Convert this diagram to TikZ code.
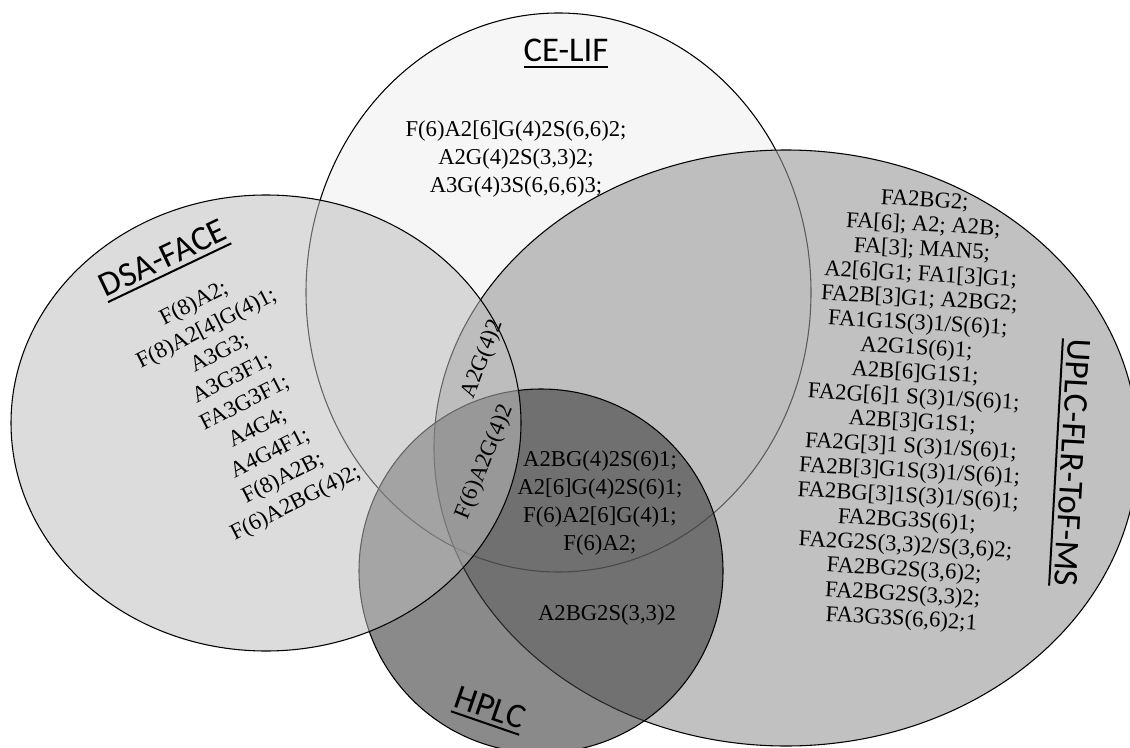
\documentclass[tikz,border=0pt]{standalone}
\usepackage{fontspec}
\setmainfont{Liberation Serif}
\newfontfamily\titlefont{Carlito}
\definecolor{celifgray}{HTML}{F6F6F6}
\definecolor{uplcgray}{HTML}{999999}
\definecolor{hplcgray}{HTML}{3C3C3C}
\definecolor{dsagray}{HTML}{BDBDBD}

\begin{document}
\begin{tikzpicture}[x=0.75pt, y=-0.75pt,
    set/.style={draw=black, line width=0.8pt},
    title/.style={font=\titlefont\fontsize{26}{30}\selectfont, inner xsep=0pt,
                  inner ysep=3.75pt, outer sep=0pt, anchor=south},
    glycans/.style={font=\fontsize{17}{21}\selectfont, align=center, inner sep=0pt}]
  \useasboundingbox (0,0) rectangle (1130,748);
  \fill[white] (0,0) rectangle (1130,748);
  % the four methods
  \draw[set, fill=celifgray] (558.5,292.5) ellipse [x radius=252.5, y radius=279.5];
  \draw[set, fill=uplcgray, fill opacity=0.6] (786,448) ellipse [x radius=352, y radius=298];
  \draw[set, fill=hplcgray, fill opacity=0.6] (541,571) circle [radius=182];
  \draw[set, fill=dsagray, fill opacity=0.53] (266,423) ellipse [x radius=255, y radius=228];
  % titles
  \node[title] (celif) at (566,66.7) {CE-LIF};
  \node[title, rotate=25.5] (dsa) at (169.7,272.7) {DSA-FACE};
  \node[title, rotate=-19] (hplc) at (485,723) {HPLC};
  \node[title, rotate=-93.2] (uplc) at (1056,462) {UPLC-FLR-ToF-MS};
  \foreach \t in {celif,dsa,hplc,uplc}
    \draw[line width=1.5pt] (\t.south west) -- (\t.south east);
  % glycans
  \node[glycans] (celif-list) at (516,159)
    {F(6)A2[6]G(4)2S(6,6)2;\\A2G(4)2S(3,3)2;\\A3G(4)3S(6,6,6)3;};
  \node[glycans, rotate=27] (dsa-list) at (245,404)
    {F(8)A2;\\F(8)A2[4]G(4)1;\\A3G3;\\A3G3F1;\\FA3G3F1;\\A4G4;\\A4G4F1;\\F(8)A2B;\\F(6)A2BG(4)2;};
  \node[glycans, rotate=-3.2, font=\fontsize{17}{18.5}\selectfont] (uplc-list) at (913,411)
    {FA2BG2;\\FA[6]; A2; A2B;\\FA[3]; MAN5;\\A2[6]G1; FA1[3]G1;\\FA2B[3]G1; A2BG2;\\
     FA1G1S(3)1/S(6)1;\\A2G1S(6)1;\\A2B[6]G1S1;\\FA2G[6]1 S(3)1/S(6)1;\\A2B[3]G1S1;\\
     FA2G[3]1 S(3)1/S(6)1;\\FA2B[3]G1S(3)1/S(6)1;\\FA2BG[3]1S(3)1/S(6)1;\\FA2BG3S(6)1;\\
     FA2G2S(3,3)2/S(3,6)2;\\FA2BG2S(3,6)2;\\FA2BG2S(3,3)2;\\FA3G3S(6,6)2;1};
  \node[glycans] (hplc-uplc-list) at (600,503)
    {A2BG(4)2S(6)1;\\A2[6]G(4)2S(6)1;\\F(6)A2[6]G(4)1;\\F(6)A2;};
  \node[glycans] (hplc-uplc) at (607,615) {A2BG2S(3,3)2};
  \node[glycans, rotate=69] (dsa-uplc) at (483,359) {A2G(4)2};
  \node[glycans, rotate=68] (all-four) at (485,462) {F(6)A2G(4)2};
\end{tikzpicture}
\end{document}
